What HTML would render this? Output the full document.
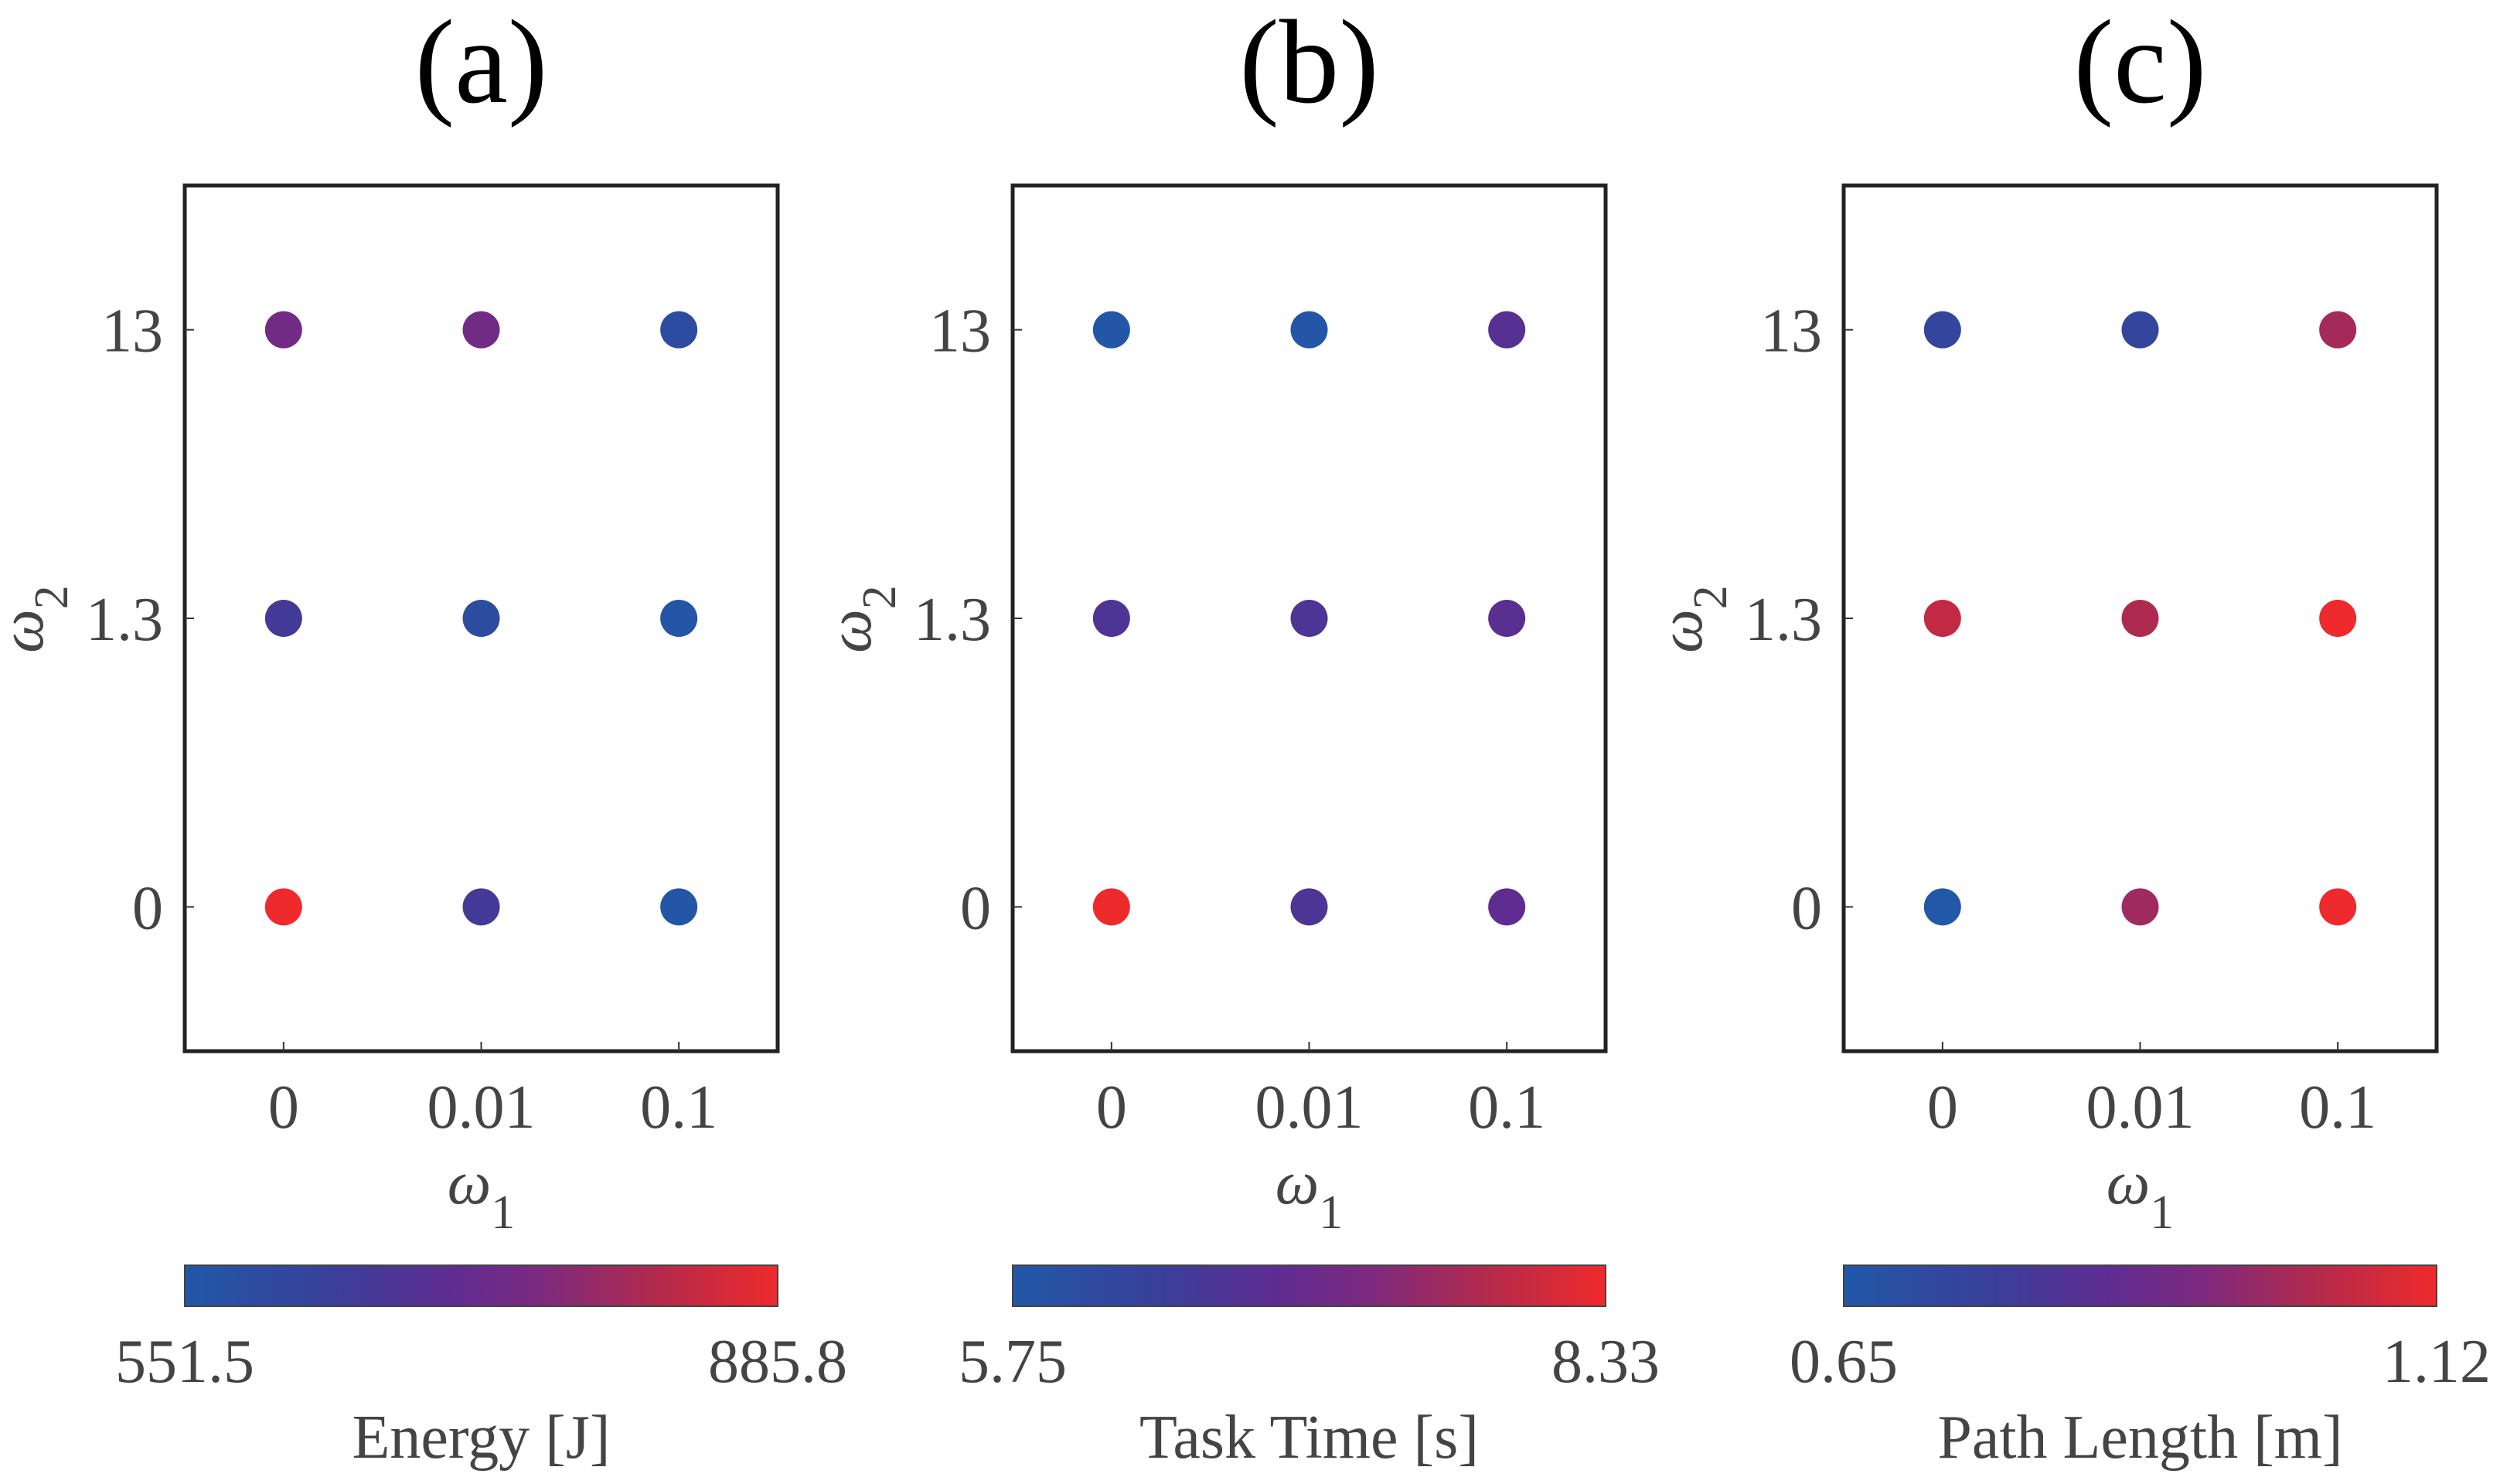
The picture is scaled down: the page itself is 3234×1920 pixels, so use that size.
<!DOCTYPE html>
<html><head><meta charset="utf-8"><style>
html,body{margin:0;padding:0;background:#fff;}
svg{display:block;font-family:"Liberation Serif",serif;}
</style></head><body>
<svg id="fig" width="3234" height="1920" viewBox="0 0 3234 1920" xmlns="http://www.w3.org/2000/svg">
<defs>
<linearGradient id="cmap" x1="0" x2="1" y1="0" y2="0">
<stop offset="0" stop-color="#2158A8"/>
<stop offset="0.25" stop-color="#3A3F99"/>
<stop offset="0.45" stop-color="#5F2C91"/>
<stop offset="0.6" stop-color="#7C2A7F"/>
<stop offset="0.8" stop-color="#B32A4C"/>
<stop offset="1" stop-color="#EF2A2C"/>
</linearGradient>
</defs>
</svg>
<script>
const xCategories = ["0", "0.01", "0.1"];
const yCategories = ["0", "1.3", "13"];
const panelTitles = ["(a)", "(b)", "(c)"];
const colorbarLabels = ["Energy [J]", "Task Time [s]", "Path Length [m]"];
const rangeMin = [551.5, 5.75, 0.65];
const rangeMax = [885.8, 8.33, 1.12];
const minLabels = ["551.5", "5.75", "0.65"];
const maxLabels = ["885.8", "8.33", "1.12"];
// values indexed [row y=0, y=1.3, y=13][col x=0, 0.01, 0.1]
const energyValues = [[885.8, 652, 558], [652, 592, 561], [735, 735, 592]];
const timeValues = [[8.33, 6.66, 6.91], [6.66, 6.66, 6.83], [5.80, 5.80, 6.78]];
const pathValues = [[0.65, 0.99, 1.12], [1.05, 1.02, 1.12], [0.74, 0.74, 1.00]];
const panelValues = [energyValues, timeValues, pathValues];

const NS = "http://www.w3.org/2000/svg";
const svg = document.getElementById("fig");
const stops = [[0,[0x21,0x58,0xA8]],[0.25,[0x3A,0x3F,0x99]],[0.45,[0x5F,0x2C,0x91]],[0.6,[0x7C,0x2A,0x7F]],[0.8,[0xB3,0x2A,0x4C]],[1,[0xEF,0x2A,0x2C]]];
function cmap(t){
  t=Math.max(0,Math.min(1,t));
  for(let i=1;i<stops.length;i++){
    if(t<=stops[i][0]){
      const a=stops[i-1],b=stops[i];const f=(t-a[0])/(b[0]-a[0]);
      const c=a[1].map((v,k)=>Math.round(v+(b[1][k]-v)*f));
      return "rgb("+c.join(",")+")";
    }
  }
  return "rgb(239,42,44)";
}
function mk(tag, attrs, parent){
  const e=document.createElementNS(NS,tag);
  for(const k in attrs) e.setAttribute(k,attrs[k]);
  (parent||svg).appendChild(e);return e;
}
const lefts=[239,1310,2385];
const W=767, TOP=240, H=1120;
for(let p=0;p<3;p++){
  const L=lefts[p];
  const xs=i=>L+W*(i+0.5)/3;
  const ys=j=>TOP+H-H*(j+0.5)/3;
  const g=mk("g",{});
  
  
  const t=mk("text",{x:L+W/2,y:132,"text-anchor":"middle","font-size":155,fill:"#000"},g);
  t.textContent=panelTitles[p];
  
  
  const box=mk("rect",{x:L,y:TOP,width:W,height:H,fill:"none",stroke:"#222","stroke-width":5},g);
  
  
  for(let i=0;i<3;i++){
    const tk=mk("line",{x1:xs(i),x2:xs(i),y1:TOP+H,y2:TOP+H-12,stroke:"#333","stroke-width":2},g);
    
    
    const lb=mk("text",{x:xs(i),y:1459,"text-anchor":"middle","font-size":80,fill:"#444"},g);
    lb.textContent=xCategories[i];
    
    
  }
  for(let j=0;j<3;j++){
    const tk=mk("line",{x1:L,x2:L+12,y1:ys(j),y2:ys(j),stroke:"#333","stroke-width":2},g);
    
    
    const lb=mk("text",{x:L-28,y:ys(j)+28,"text-anchor":"end","font-size":80,fill:"#444"},g);
    lb.textContent=yCategories[j];
    
    
  }
  const xl=mk("text",{x:L+W/2,y:1557,"text-anchor":"middle","font-size":80,fill:"#444","font-style":"italic"},g);
  xl.innerHTML='ω<tspan font-style="normal" dy="32" font-size="62">1</tspan>';
  
  
  const yl=mk("text",{x:0,y:0,"text-anchor":"middle","font-size":80,fill:"#444","font-style":"italic",transform:"translate("+(L-184)+",801) rotate(-90)"},g);
  yl.innerHTML='ω<tspan font-style="normal" dy="32" font-size="62">2</tspan>';
  
  
  const vals=panelValues[p];
  for(let j=0;j<3;j++)for(let i=0;i<3;i++){
    const v=vals[j][i];
    const tt=(v-rangeMin[p])/(rangeMax[p]-rangeMin[p]);
    const c=mk("circle",{cx:xs(i),cy:ys(j),r:24,fill:cmap(tt)},g);
    
    
  }
  const cb=mk("rect",{x:L,y:1637,width:W,height:53,fill:"url(#cmap)",stroke:"#444","stroke-width":2},g);
  
  
  const mn=mk("text",{x:L,y:1788,"text-anchor":"middle","font-size":80,fill:"#444"},g);
  mn.textContent=minLabels[p];
  
  
  const mx=mk("text",{x:L+W,y:1788,"text-anchor":"middle","font-size":80,fill:"#444"},g);
  mx.textContent=maxLabels[p];
  
  
  const ct=mk("text",{x:L+W/2,y:1886,"text-anchor":"middle","font-size":80,fill:"#444"},g);
  ct.textContent=colorbarLabels[p];
  
  
}
</script>
</body></html>
